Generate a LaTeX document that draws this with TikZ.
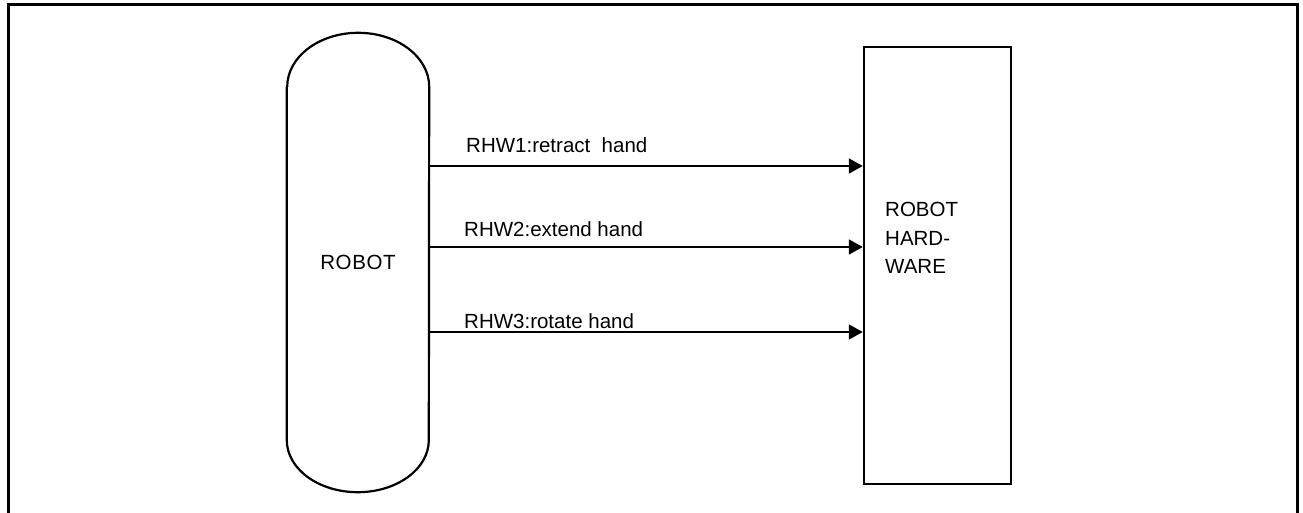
\documentclass[tikz,border=0pt]{standalone}
\usepackage{fontspec}
\setmainfont{Liberation Sans}
\newfontfamily\widesans[LetterSpace=3]{Liberation Sans}
\usetikzlibrary{arrows.meta}
\begin{document}
\begin{tikzpicture}[x=1pt,y=-1pt,
  every node/.style={font=\fontsize{20.5}{28.5}\selectfont, inner sep=0pt},
  frameline/.style={line width=3pt},
  shapeline/.style={line width=2.2pt},
  msg/.style={line width=2pt, -{Triangle[length=14pt,width=15pt]}},
  lbl/.style={anchor=base west}]
\useasboundingbox (0,0) rectangle (1303,513);
% outer frame
\draw[frameline] (8,530) -- (8,5) -- (1297,5) -- (1297,530);
% robot
\node[minimum width=142pt, minimum height=459pt, font=\widesans\fontsize{20.5}{28.5}\selectfont] (robot) at (358,262.5) {ROBOT};
\draw[shapeline] ([yshift=-54pt]robot.north west) -- ([yshift=52pt]robot.south west)
  arc[start angle=180, end angle=360, x radius=71pt, y radius=52pt]
  -- ([yshift=-54pt]robot.north east)
  arc[start angle=0, end angle=180, x radius=71pt, y radius=54pt];
% hardware
\node[draw, line width=2.5pt, minimum width=147pt, minimum height=437pt] (hw) at (937.5,265.5) {};
\node[anchor=north west, align=left] (hwtext) at (885,202) {ROBOT\\HARD-\\WARE};
% messages
\coordinate (y1) at (0,166);
\coordinate (y2) at (0,247);
\coordinate (y3) at (0,332);
\draw[msg] (robot.east |- y1) -- (hw.west |- y1);
\draw[msg] (robot.east |- y2) -- (hw.west |- y2);
\draw[msg] (robot.east |- y3) -- (hw.west |- y3);
\node[lbl] (l1) at (466,153) {RHW1:retract\ \ hand};
\node[lbl] (l2) at (464,236) {RHW2:extend hand};
\node[lbl] (l3) at (464,328) {RHW3:rotate hand};
\end{tikzpicture}
\end{document}
